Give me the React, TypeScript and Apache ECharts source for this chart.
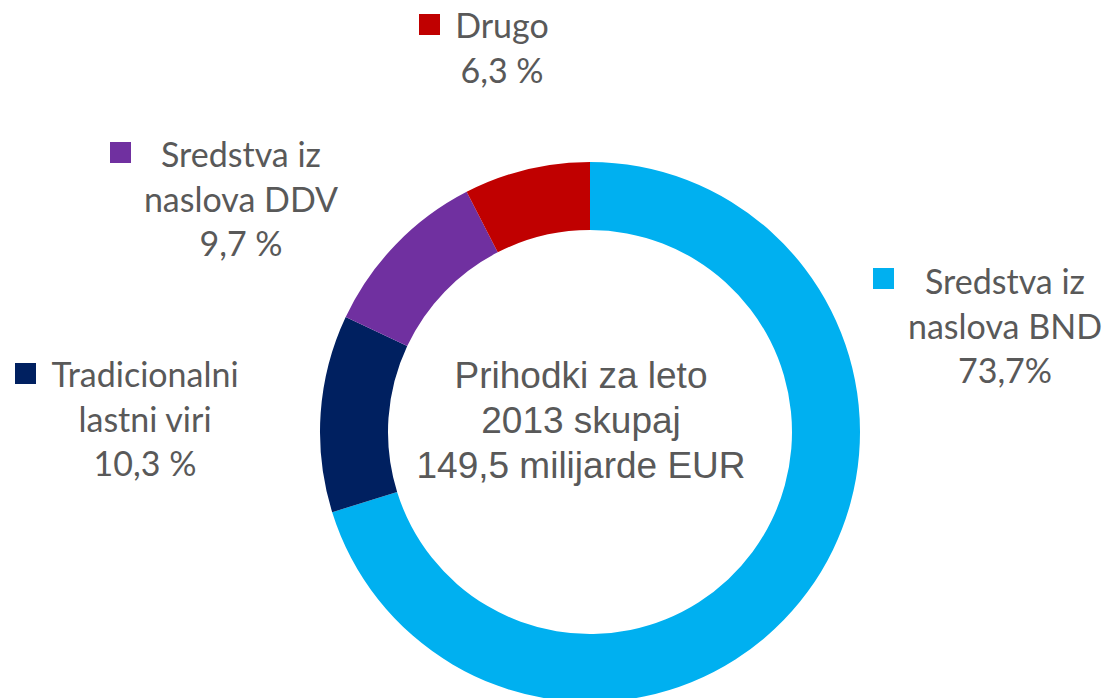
import React, { useEffect, useRef } from "react";
import * as echarts from "echarts";

// Slice categories (clockwise from 12 o'clock)
const categories = ["Sredstva iz\nnaslova BND", "Tradicionalni\nlastni viri", "Sredstva iz\nnaslova DDV", "Drugo"];
// Arc shares as drawn in the picture
const sliceShares = [70.2, 11.8, 10.45, 7.55];
// Percentages printed in the labels
const labelPercents = ["73,7%", "10,3 %", "9,7 %", "6,3 %"];
const colors = ["#00B0F0", "#002060", "#7030A0", "#C00000"];
const centerTitle = "Prihodki za leto\n2013 skupaj\n149,5 milijarde EUR";

// label layout (positions only)
const labelPos = [
  { x: 1005, y: 325, sq: [873, 268] },
  { x: 145, y: 418, sq: [15, 363] },
  { x: 241, y: 198, sq: [110, 142] },
  { x: 502, y: 47, sq: [419, 14] },
];

export default function App() {
  const ref = useRef<HTMLDivElement>(null);
  useEffect(() => {
    document.body.style.margin = "0";
    const chart = echarts.init(ref.current!, null, { renderer: "svg" });
    const graphics: any[] = [];
    categories.forEach((c, i) => {
      const p = labelPos[i];
      graphics.push({
        type: "rect",
        shape: { x: p.sq[0], y: p.sq[1], width: 21, height: 21 },
        style: { fill: colors[i] },
      });
      graphics.push({
        type: "text",
        x: p.x,
        y: p.y,
        style: {
          text: c + "\n" + labelPercents[i],
          fill: "#595959",
          font: "34px Lato",
          lineHeight: 44.5,
          align: "center",
          verticalAlign: "middle",
        },
      });
    });
    graphics.push({
      type: "text",
      x: 581,
      y: 420,
      style: {
        text: centerTitle,
        fill: "#595959",
        font: "37px 'Liberation Sans', Arial, sans-serif",
        lineHeight: 45,
        align: "center",
        verticalAlign: "middle",
      },
    });
    chart.setOption({
      animation: false,
      backgroundColor: "#ffffff",
      series: [
        {
          type: "pie",
          center: [590, 432],
          radius: [202, 270],
          startAngle: 90,
          clockwise: true,
          label: { show: false },
          labelLine: { show: false },
          emphasis: { disabled: true },
          itemStyle: { borderWidth: 0 },
          data: categories.map((c, i) => ({
            name: c,
            value: sliceShares[i],
            itemStyle: { color: colors[i] },
          })),
        },
      ],
      graphic: graphics,
    });
    return () => chart.dispose();
  }, []);
  return <div ref={ref} style={{ width: 1103, height: 698 }} />;
}
